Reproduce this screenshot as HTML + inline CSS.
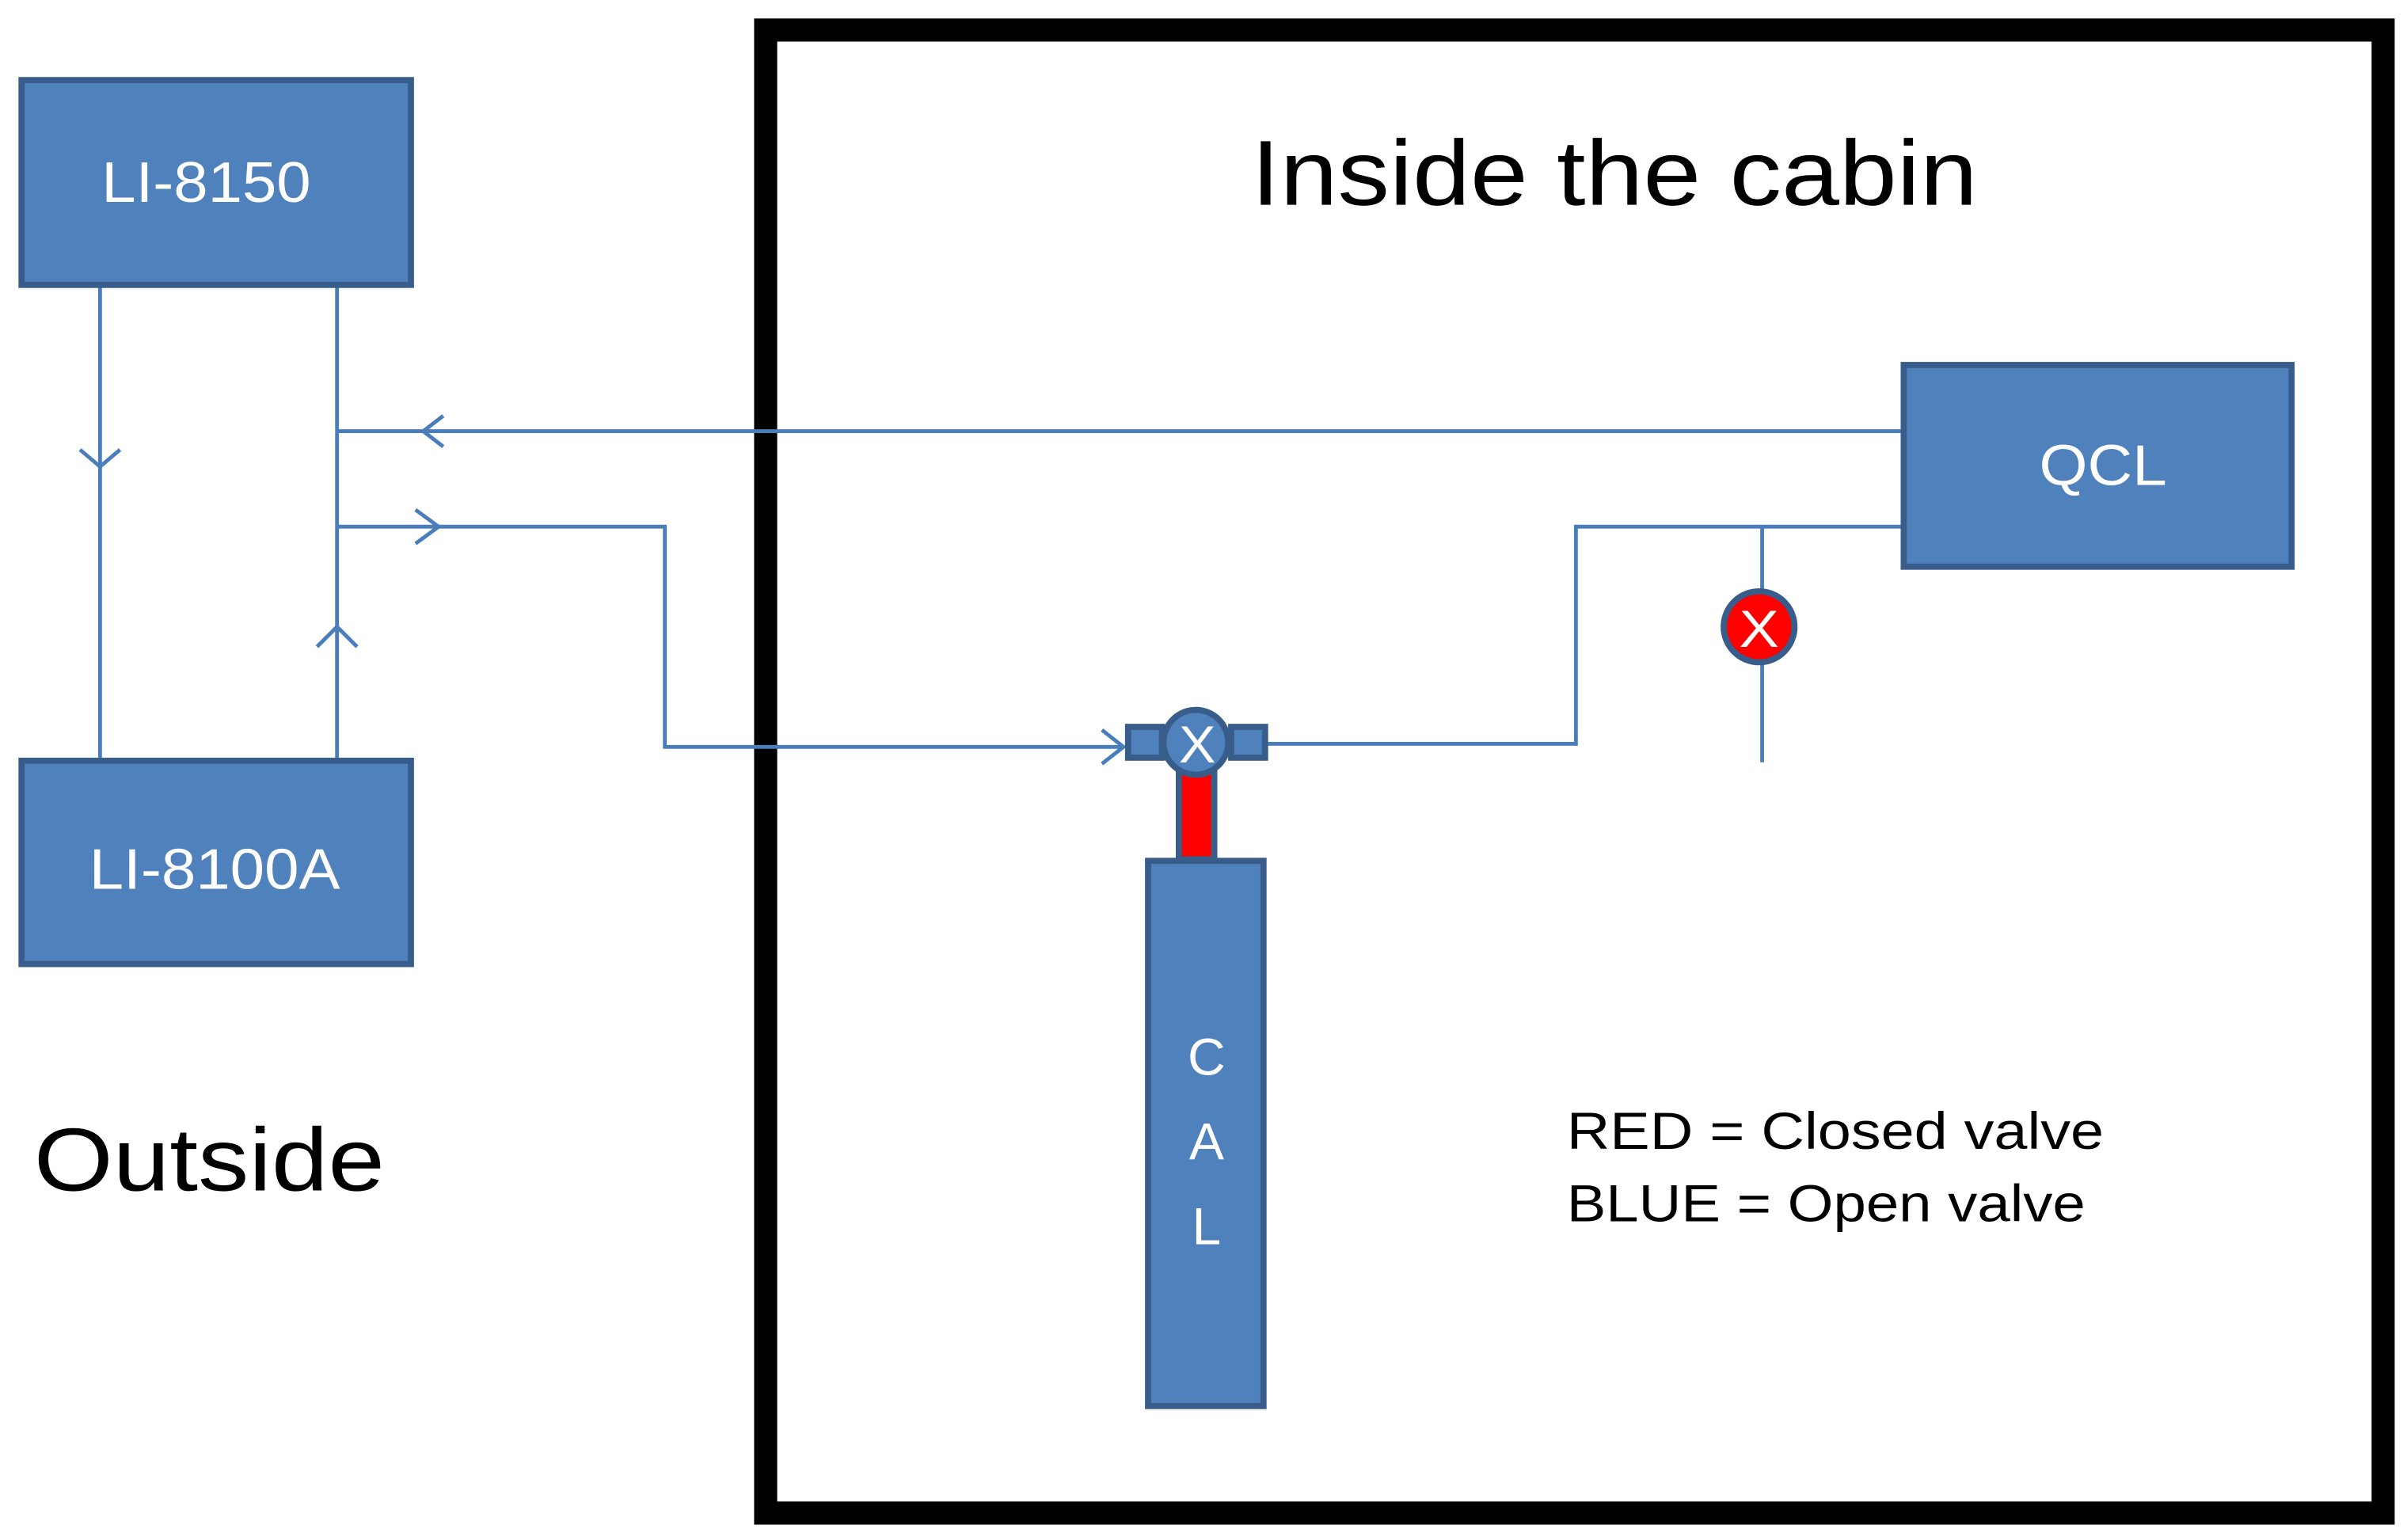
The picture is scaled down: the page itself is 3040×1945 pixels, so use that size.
<!DOCTYPE html>
<html><head><meta charset="utf-8"><style>
html,body{margin:0;padding:0;background:#fff;}
svg{display:block;}
text{font-family:"Liberation Sans",sans-serif;}
</style></head><body>
<svg width="3040" height="1945" viewBox="0 0 1564 1000" preserveAspectRatio="none" xmlns="http://www.w3.org/2000/svg">
<rect x="0" y="0" width="1564" height="1000" fill="#fff"/>
<rect x="497.5" y="19.5" width="1051" height="963" fill="none" stroke="#000" stroke-width="15"/>
<g stroke="#4a7ebb" stroke-width="2.5" fill="none">
<line x1="65" y1="186" x2="65" y2="492"/>
<polyline points="52,292 65,303 78,292"/>
<line x1="219" y1="186" x2="219" y2="492"/>
<polyline points="206,420 219,407 232,420"/>
<line x1="219" y1="280" x2="1235" y2="280"/>
<polyline points="288,270 275,280 288,290"/>
<polyline points="219,342 432,342 432,485 730,485"/>
<polyline points="270,331 285,342 270,353"/>
<polyline points="716,474 730,485 716,496"/>
<polyline points="822,483 1024,483 1024,342 1235,342"/>
<line x1="1145" y1="342" x2="1145" y2="495"/>
</g>
<g fill="#4f81bd" stroke="#385d8a" stroke-width="4">
<rect x="14" y="52" width="253" height="133"/>
<rect x="14" y="494" width="253" height="132"/>
<rect x="1237" y="237" width="252" height="131"/>
<rect x="746" y="559" width="75" height="354"/>
<rect x="766" y="500" width="23" height="58" fill="#ff0000"/>
<rect x="733" y="472" width="22" height="20"/>
<rect x="800" y="472" width="22" height="20"/>
<circle cx="777" cy="482" r="21"/>
<circle cx="1143" cy="407" r="23" fill="#ff0000"/>
</g>
<g fill="#fff">
<text x="66" y="131" font-size="37" textLength="136" lengthAdjust="spacingAndGlyphs">LI-8150</text>
<text x="58" y="577" font-size="37" textLength="163" lengthAdjust="spacingAndGlyphs">LI-8100A</text>
<text x="1325" y="315" font-size="37" textLength="83" lengthAdjust="spacingAndGlyphs">QCL</text>
<text x="766" y="495" font-size="34" textLength="24" lengthAdjust="spacingAndGlyphs">X</text>
<text x="1130" y="420" font-size="34" textLength="26" lengthAdjust="spacingAndGlyphs">X</text>
<text x="784" y="698" font-size="34" text-anchor="middle">C</text>
<text x="784" y="753" font-size="34" text-anchor="middle">A</text>
<text x="784" y="808" font-size="34" text-anchor="middle">L</text>
</g>
<text x="813" y="133" font-size="60" fill="#000" textLength="472" lengthAdjust="spacingAndGlyphs">Inside the cabin</text>
<text x="22" y="773" font-size="58" fill="#000" textLength="228" lengthAdjust="spacingAndGlyphs">Outside</text>
<text x="1018" y="746" font-size="34" fill="#000" textLength="349" lengthAdjust="spacingAndGlyphs">RED = Closed valve</text>
<text x="1018" y="793" font-size="34" fill="#000" textLength="337" lengthAdjust="spacingAndGlyphs">BLUE = Open valve</text>
</svg>
</body></html>
